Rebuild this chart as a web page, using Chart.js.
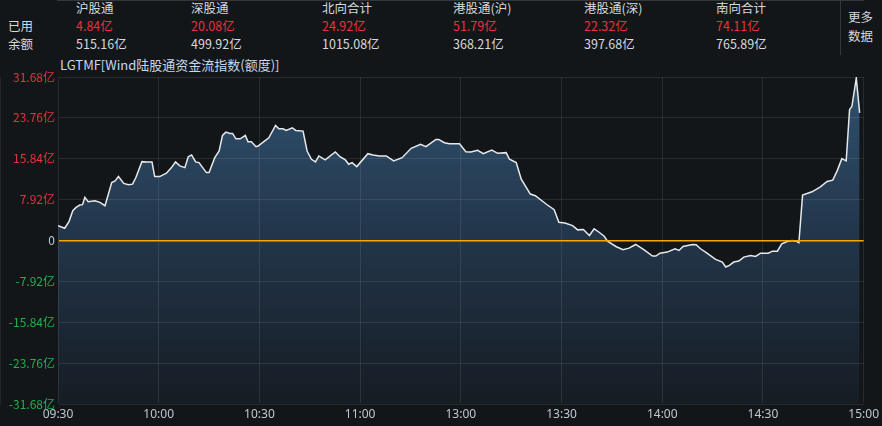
<!DOCTYPE html>
<html>
<head>
<meta charset="utf-8">
<script src="https://cdn.jsdelivr.net/npm/chart.js@4.4.1/dist/chart.umd.min.js"></script>
<style>
    html, body { margin: 0; padding: 0; background: #131619; }
    body { width: 882px; height: 426px; position: relative; overflow: hidden;
           font-family: "Noto Sans CJK SC", "Noto Sans", sans-serif; }
    .t { position: absolute; font-size: 12.5px; line-height: 14px; white-space: nowrap; color: #d6d9dd; }
    .red { color: #e8323c; }
    .sep { position: absolute; left: 840px; top: 0; width: 1px; height: 55px; background: #34373c; }
    #title { position: absolute; left: 60px; top: 57px; font-size: 13px; line-height: 16px; color: #c6d8ec; }
    #wrap { position: absolute; left: 0; top: 0; width: 882px; height: 426px; }
</style>
</head>
<body>
<div id="header"></div>
<div class="sep"></div>
<div class="t" style="left:848px;top:10px;">更多</div>
<div class="t" style="left:848px;top:29px;">数据</div>
<div id="title">LGTMF[Wind陆股通资金流指数(额度)]</div>
<div id="wrap"><canvas id="flowChart"></canvas></div>
<script>
// header table
const channels = ["沪股通", "深股通", "北向合计", "港股通(沪)", "港股通(深)", "南向合计"];
const usedQuota = ["4.84亿", "20.08亿", "24.92亿", "51.79亿", "22.32亿", "74.11亿"];
const leftQuota = ["515.16亿", "499.92亿", "1015.08亿", "368.21亿", "397.68亿", "765.89亿"];
const colX = [76, 191, 322, 453, 584, 716];

// chart data: trading minutes since 09:30 and index value (亿)
const minutes = [0, 2, 3.3, 4.4, 5.4, 6.5, 7.3, 8, 9, 11, 12.5, 14, 16, 17, 18, 19.6, 21, 22.2, 23.2, 25,
    26.4, 28, 28.8, 30.3, 32.3, 33.8, 35, 36.3, 37.8, 38.8, 39.8, 41, 42, 44.2, 45, 46.7, 48, 49, 50, 51.2,
    52, 53, 54.3, 55.8, 56.6, 57.6, 59, 59.6, 61.5, 62.8, 64.8, 65.8, 67, 68, 69.8, 70.8, 73, 74.2, 75.5, 76.7,
    77.7, 79.6, 82.6, 84, 85.6, 86.6, 87.6, 89, 92.3, 93.8, 95.8, 97.8, 100, 102.5, 105.2, 108, 109.6, 112.6, 113.4, 115.1,
    116.6, 119.6, 121.5, 123, 125, 126.7, 129.2, 131, 133.5, 134.5, 136.5, 138, 140.7, 142.2, 145.4, 147.8, 149.2, 151,
    153.3, 154.8, 156.5, 158.3, 159.7, 161.2, 162.7, 163.7, 166.2, 168.3, 170.1, 172.1, 174.6, 177.1, 178.1, 179.3, 181.5, 183.8,
    185, 186.2, 189, 190.1, 191.4, 192.9, 195.9, 197.9, 198.9, 200, 201.3, 202.8, 204.3, 206.3, 207.8, 209.3, 211.6, 212.8,
    214.3, 215.6, 217.2, 218.7, 219.9, 220.7, 221.8, 224.6, 227.1, 229.1, 230.8, 232.1, 233.5, 234.8, 235.8, 236.5, 237.8, 238.8];
const flow = [2.89, 2.37, 3.72, 5.78, 6.42, 6.87, 6.94, 8.35, 7.51, 7.71, 7.38, 6.74, 11.24, 11.56, 12.39, 11.05, 10.79, 10.92, 12.2, 15.28,
    15.22, 15.22, 12.39, 12.39, 13.04, 14.12, 15.22, 14.45, 14.12, 16.24, 16.57, 15.22, 15.09, 13.16, 13.16, 16.05, 17.34, 20.37, 21.0, 20.75,
    20.75, 19.71, 19.71, 20.37, 19.14, 19.14, 18.17, 18.31, 19.27, 19.91, 22.3, 21.65, 21.65, 21.33, 21.84, 21.33, 21.2, 17.34, 15.74, 15.22,
    16.38, 15.61, 17.15, 16.24, 15.61, 14.78, 15.09, 14.32, 16.82, 16.57, 16.38, 16.38, 15.42, 16.05, 17.86, 18.63, 18.17, 19.59, 19.59, 18.94,
    18.75, 18.75, 17.21, 17.15, 17.47, 16.82, 17.53, 16.89, 17.02, 15.74, 15.09, 11.89, 9.0, 8.67, 7.07, 5.97, 3.53, 3.4,
    2.89, 2.06, 2.12, 0.96, 2.25, 1.6, 0.83, -0.13, -1.16, -1.8, -1.48, -0.77, -1.8, -3.02, -3.02, -2.45, -2.25, -1.6,
    -1.93, -1.16, -0.77, -0.83, -1.6, -2.25, -3.66, -4.18, -5.14, -4.82, -4.18, -3.98, -3.21, -2.89, -3.08, -2.45, -2.45, -2.06,
    -2.06, -0.64, -0.19, 0, -0.13, -0.45, 8.8, 9.44, 10.4, 11.43, 11.7, 13.49, 15.86, 15.42, 25.37, 26.0, 31.46, 24.72];

const yTicks = [-31.68, -23.76, -15.84, -7.92, 0, 7.92, 15.84, 23.76, 31.68];
const xTicks = [0, 30, 60, 90, 120, 150, 180, 210, 240];
const xLabels = ["09:30", "10:00", "10:30", "11:00", "13:00", "13:30", "14:00", "14:30", "15:00"];

// build header
const header = document.getElementById("header");
let html = '<div class="t" style="left:8px;top:19px;">已用</div><div class="t" style="left:8px;top:37px;">余额</div>';
channels.forEach((c, i) => {
    html += `<div class="t" style="left:${colX[i]}px;top:1px;">${c}</div>`;
    html += `<div class="t red" style="left:${colX[i]}px;top:19px;">${usedQuota[i]}</div>`;
    html += `<div class="t" style="left:${colX[i]}px;top:37px;">${leftQuota[i]}</div>`;
});
header.innerHTML = html;

const points = minutes.map((m, i) => ({ x: m, y: flow[i] }));
const gridColor = "rgba(255,255,255,0.09)";

const config = {
    type: "line",
    data: {
        datasets: [
            {
                data: points,
                borderColor: "#e6e9ec",
                borderWidth: 1.5,
                pointRadius: 0,
                tension: 0,
                fill: "start",
                backgroundColor: (ctx) => {
                    const area = ctx.chart.chartArea;
                    if (!area) return "rgba(40,70,100,0.8)";
                    const g = ctx.chart.ctx.createLinearGradient(0, area.top, 0, area.bottom);
                    g.addColorStop(0, "#30516f");
                    g.addColorStop(0.5, "#223549");
                    g.addColorStop(1, "#161c23");
                    return g;
                },
            },
        ],
    },
    options: {
        responsive: false,
        animation: false,
        layout: { padding: { top: 77, right: 17, bottom: 0, left: 0 } },
        plugins: { legend: { display: false }, tooltip: { enabled: false } },
        scales: {
            x: {
                type: "linear",
                min: 0,
                max: 240,
                afterBuildTicks: (scale) => { scale.ticks = xTicks.map((v) => ({ value: v })); },
                afterFit: (scale) => { scale.height = 22; },
                ticks: {
                    autoSkip: false,
                    maxRotation: 0,
                    color: "#bcc8d4",
                    font: { size: 12, family: "'Noto Sans', sans-serif" },
                    padding: 3,
                    callback: (value) => xLabels[xTicks.indexOf(value)],
                },
                grid: { color: gridColor, lineWidth: 1, drawTicks: false, z: 1 },
                border: { color: "#33363b", width: 2 },
            },
            y: {
                min: -31.68,
                max: 31.68,
                afterBuildTicks: (scale) => { scale.ticks = yTicks.map((v) => ({ value: v })); },
                afterFit: (scale) => { scale.width = 58; },
                ticks: {
                    autoSkip: false,
                    padding: 3,
                    font: { size: 12, family: "'Noto Sans CJK SC', sans-serif" },
                    color: (ctx) => ctx.tick.value > 0 ? "#e8323c" : (ctx.tick.value < 0 ? "#22b14c" : "#b9cee2"),
                    callback: (value) => value === 0 ? "0" : value.toFixed(2) + "亿",
                },
                grid: {
                    drawTicks: false,
                    color: (ctx) => ctx.tick && ctx.tick.value === 0 ? "#f4a800" : gridColor,
                    lineWidth: (ctx) => ctx.tick && ctx.tick.value === 0 ? 1.5 : 1,
                    z: 1,
                },
                border: { color: "#33363b", width: 1 },
            },
        },
    },
};

const canvas = document.getElementById("flowChart");
canvas.width = 882;
canvas.height = 426;
new Chart(canvas, config);
</script>
</body>
</html>
